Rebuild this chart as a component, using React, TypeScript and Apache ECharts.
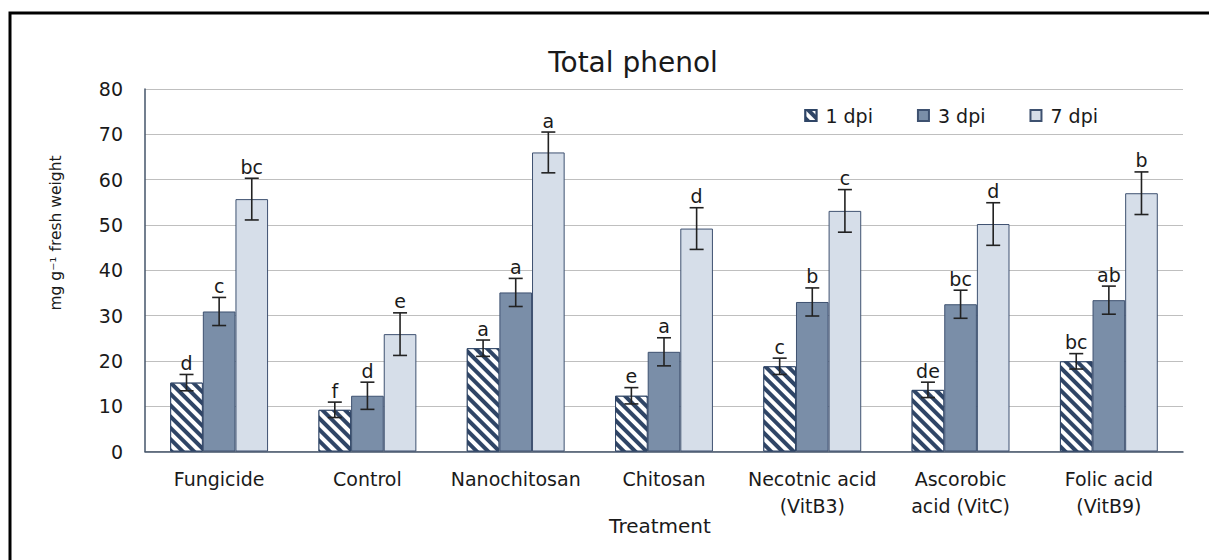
import React, { useEffect, useRef } from "react";
import * as echarts from "echarts";

const categories = [
  "Fungicide",
  "Control",
  "Nanochitosan",
  "Chitosan",
  "Necotnic acid\n(VitB3)",
  "Ascorobic\nacid (VitC)",
  "Folic acid\n(VitB9)",
];
const seriesNames = ["1 dpi", "3 dpi", "7 dpi"];
const dpi1 = [15.2, 9.2, 22.8, 12.3, 18.8, 13.6, 19.9];
const dpi3 = [30.9, 12.3, 35.1, 22.0, 33.0, 32.5, 33.4];
const dpi7 = [55.7, 25.9, 66.0, 49.2, 53.1, 50.2, 57.0];
const err1 = [1.8, 1.7, 1.8, 1.8, 1.8, 1.7, 1.7];
const err3 = [3.1, 3.0, 3.1, 3.1, 3.1, 3.1, 3.1];
const err7 = [4.6, 4.7, 4.5, 4.6, 4.7, 4.7, 4.7];
const letters1 = ["d", "f", "a", "e", "c", "de", "bc"];
const letters3 = ["c", "d", "a", "a", "b", "bc", "ab"];
const letters7 = ["bc", "e", "a", "d", "c", "d", "b"];
const yTicks = [0, 10, 20, 30, 40, 50, 60, 70, 80];

const FONT = "'DejaVu Sans', Verdana, sans-serif";
const BAR_W = 0.22;

function errSeries(k: number, vals: number[], errs: number[], letters: string[]) {
  return {
    type: "custom",
    name: "err" + k,
    z: 10,
    silent: true,
    encode: { x: 0, y: 1 },
    data: vals.map((v, i) => [i, v, errs[i], letters[i]]),
    renderItem: (params: any, api: any) => {
      const idx = api.value(0);
      const v = api.value(1);
      const e = api.value(2);
      const band = api.size([1, 0])[0];
      const cx = api.coord([idx, v])[0] + (k - 1) * band * BAR_W;
      const yTop = api.coord([idx, v + e])[1];
      const yBot = api.coord([idx, v - e])[1];
      const cap = 7;
      const ls = { stroke: "#222", lineWidth: 1.6 };
      return {
        type: "group",
        children: [
          { type: "line", shape: { x1: cx, y1: yTop, x2: cx, y2: yBot }, style: ls },
          { type: "line", shape: { x1: cx - cap, y1: yTop, x2: cx + cap, y2: yTop }, style: ls },
          { type: "line", shape: { x1: cx - cap, y1: yBot, x2: cx + cap, y2: yBot }, style: ls },
          {
            type: "text",
            x: cx,
            y: yTop - 2,
            style: {
              text: letters[idx],
              fontSize: 19,
              fontFamily: FONT,
              fill: "#1a1a1a",
              align: "center",
              verticalAlign: "bottom",
            },
          },
        ],
      };
    },
  };
}

export default function App() {
  const ref = useRef<HTMLDivElement>(null);
  useEffect(() => {
    if (!ref.current) return;
    const chart = echarts.init(ref.current, null, { renderer: "svg" });
    const barBorder = "#3e5170";
    chart.setOption({
      animation: false,
      backgroundColor: "#ffffff",
      textStyle: { fontFamily: FONT },
      grid: { left: 145, right: 26, top: 89, bottom: 108.5, containLabel: false },
      legend: {
        data: seriesNames,
        right: 106,
        top: 101,
        icon: "rect",
        itemWidth: 11,
        itemHeight: 11,
        itemGap: 44,
        textStyle: { fontSize: 19, color: "#1a1a1a", fontFamily: FONT, padding: [0, 0, 0, 4] },
      },
      xAxis: {
        type: "category",
        data: categories,
        axisLine: { show: true, lineStyle: { color: "#44546a", width: 1.5 } },
        axisTick: { show: false },
        axisLabel: {
          fontSize: 19,
          color: "#1a1a1a",
          fontFamily: FONT,
          margin: 14,
          lineHeight: 27,
          interval: 0,
        },
      },
      yAxis: {
        type: "value",
        min: 0,
        max: 80,
        interval: 10,
        axisLine: { show: true, lineStyle: { color: "#44546a", width: 1.5 } },
        axisTick: { show: false },
        splitLine: { lineStyle: { color: "#bfbfbf", width: 1 } },
        axisLabel: {
          fontSize: 19,
          color: "#1a1a1a",
          fontFamily: FONT,
          margin: 22,
          formatter: (v: number) => (yTicks.includes(v) ? String(v) : ""),
        },
      },
      graphic: [
        {
          type: "rect",
          shape: { x: 10, y: 13, width: 1300, height: 700 },
          style: { fill: "none", stroke: "#000", lineWidth: 3 },
          silent: true,
        },
        {
          type: "text",
          x: 633,
          y: 62,
          style: {
            text: "Total phenol",
            fontSize: 28,
            fontFamily: FONT,
            fill: "#1a1a1a",
            align: "center",
            verticalAlign: "middle",
          },
        },
        {
          type: "text",
          x: 56,
          y: 233,
          rotation: Math.PI / 2,
          style: {
            text: "mg g\u207B\u00B9 fresh weight",
            fontSize: 15.5,
            fontFamily: FONT,
            fill: "#1a1a1a",
            align: "center",
            verticalAlign: "middle",
          },
        },
        {
          type: "text",
          x: 660,
          y: 526,
          style: {
            text: "Treatment",
            fontSize: 20,
            fontFamily: FONT,
            fill: "#1a1a1a",
            align: "center",
            verticalAlign: "middle",
          },
        },
      ],
      series: [
        {
          type: "bar",
          name: seriesNames[0],
          data: dpi1,
          barWidth: "22%",
          barGap: "0%",
          itemStyle: {
            color: "#2f4566",
            borderColor: "#2f4566",
            borderWidth: 1,
            decal: {
              symbol: "rect",
              color: "#ffffff",
              dashArrayX: [1, 0],
              dashArrayY: [4, 4],
              rotation: Math.PI / 4,
            },
          },
        },
        {
          type: "bar",
          name: seriesNames[1],
          data: dpi3,
          barWidth: "22%",
          barGap: "0%",
          itemStyle: { color: "#7a8ea8", borderColor: barBorder, borderWidth: 1 },
        },
        {
          type: "bar",
          name: seriesNames[2],
          data: dpi7,
          barWidth: "22%",
          barGap: "0%",
          itemStyle: { color: "#d6dee9", borderColor: barBorder, borderWidth: 1 },
        },
        errSeries(0, dpi1, err1, letters1),
        errSeries(1, dpi3, err3, letters3),
        errSeries(2, dpi7, err7, letters7),
      ],
    });
    return () => chart.dispose();
  }, []);
  return (
    <div
      ref={ref}
      style={{ position: "fixed", left: 0, top: 0, width: 1209, height: 560 }}
    />
  );
}
